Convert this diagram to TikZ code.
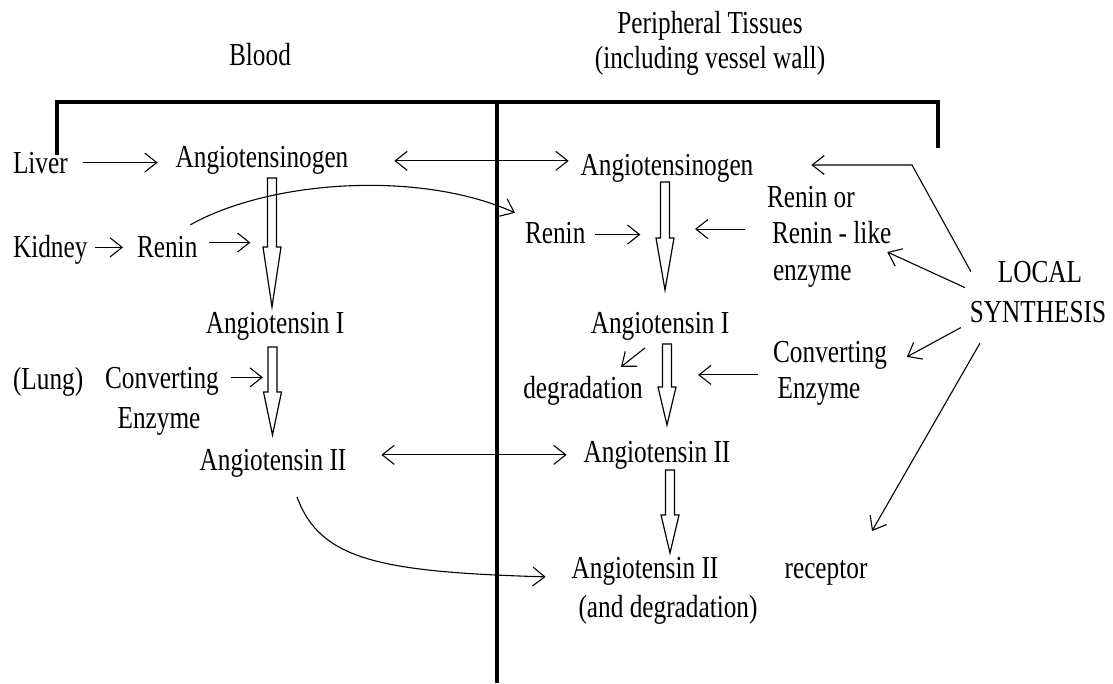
\documentclass[tikz,border=0pt]{standalone}
\usepackage{fontspec}
\setmainfont{Liberation Serif}[FakeStretch=0.79]
\usetikzlibrary{arrows.meta,calc}
\newcommand\hollowdown[4]{%
  \draw[hollow] (#1-4.5,#2) -- (#1+4.5,#2) -- (#1+4.5,#3) -- (#1+9,#3) -- (#1,#4) -- (#1-9,#3) -- (#1-4.5,#3) -- cycle;}
\begin{document}
\begin{tikzpicture}[x=1pt,y=-1pt,
  txt/.style={inner sep=0pt, outer sep=0pt, font=\fontsize{32}{38}\selectfont},
  arr/.style={line width=1.1pt, -{Straight Barb[length=12pt,width=19pt]}},
  darr/.style={line width=1.1pt, {Straight Barb[length=12pt,width=19pt]}-{Straight Barb[length=12pt,width=19pt]}},
  bar/.style={line width=4.5pt, line join=miter},
  hollow/.style={line width=1.2pt, line join=miter}]
\fill[white] (0,0) rectangle (1113,683);
\useasboundingbox (0,0) rectangle (1113,683);

% headings
\node[txt, anchor=base] (blood) at (260,65) {Blood};
\node[txt, anchor=base] (pt1) at (710,33) {Peripheral Tissues};
\node[txt, anchor=base] (pt2) at (710,68) {(including vessel wall)};

% frame
\draw[bar] (57,155) -- (57,102) -- (938,102) -- (938,148);
\draw[bar] (497,102) -- (497,683);

% blood side
\node[txt, anchor=base west] (liver) at (13,173) {Liver};
\node[txt, anchor=base] (angL) at (262,167) {Angiotensinogen};
\node[txt, anchor=base west] (kidney) at (13,257) {Kidney};
\node[txt, anchor=base west] (reninL) at (137,257) {Renin};
\node[txt, anchor=base] (angIL) at (275,333) {Angiotensin I};
\node[txt, anchor=base west] (lung) at (13,389) {(Lung)};
\node[txt, anchor=base] (convL) at (162,388) {Converting};
\node[txt, anchor=base] (enzL) at (159,428) {Enzyme};
\node[txt, anchor=base] (angIIL) at (273,470) {Angiotensin II};

% tissue side
\node[txt, anchor=base] (angR) at (667,175) {Angiotensinogen};
\node[txt, anchor=base west] (reninR) at (525,243) {Renin};
\node[txt, anchor=base west] (ror1) at (767,207) {Renin or};
\node[txt, anchor=base west] (ror2) at (772,243) {Renin - like};
\node[txt, anchor=base west] (ror3) at (773,280) {enzyme};
\node[txt, anchor=base] (local) at (1040,282) {LOCAL};
\node[txt, anchor=base] (synth) at (1038,322) {SYNTHESIS};
\node[txt, anchor=base] (angIR) at (660,333) {Angiotensin I};
\node[txt, anchor=base] (degr) at (583,398) {degradation};
\node[txt, anchor=base] (convR) at (830,362) {Converting};
\node[txt, anchor=base] (enzR) at (819,398) {Enzyme};
\node[txt, anchor=base] (angIIR) at (657,462) {Angiotensin II};
\node[txt, anchor=base] (angIIlow) at (645,578) {Angiotensin II};
\node[txt, anchor=base] (anddeg) at (668,617) {(and degradation)};
\node[txt, anchor=base] (receptor) at (826,578) {receptor};

% hollow conversion arrows
\hollowdown{272}{178}{247}{307}
\hollowdown{272.5}{347}{392}{435}
\hollowdown{665}{182}{238}{290}
\hollowdown{667}{344}{387}{425}
\hollowdown{670}{470}{515}{553}

% thin arrows, blood side
\draw[arr] ([xshift=15pt]liver.east) -- ([xshift=-18pt]liver.east -| angL.west);
\draw[darr] ([xshift=46pt,yshift=-1pt]angL.east) -- ([xshift=-12pt,yshift=-1pt]angL.east -| angR.west);
\draw[arr] ([xshift=8pt,yshift=2pt]kidney.east) -- ([xshift=-14pt,yshift=2pt]kidney.east -| reninL.west);
\draw[arr] ([xshift=12pt,yshift=4pt]reninL.east) -- ++(41,0);
\draw[arr] ([shift={(-7pt,11pt)}]reninL.north east) .. controls (270,180) and (420,170) .. ([shift={(-10pt,9pt)}]reninR.north west);
\draw[arr] ([xshift=12pt,yshift=3.5pt]convL.east) -- ++(32,0);
\draw[darr] ([xshift=35pt,yshift=8pt]angIIL.east) -- ([xshift=-17pt,yshift=8pt]angIIL.east -| angIIR.west);
\draw[arr] ([shift={(24pt,-20pt)}]angIIL.south) .. controls (320,560) and (380,572) .. ([shift={(-26pt,-6pt)}]angIIlow.west);

% thin arrows, tissue side
\draw[arr] ([xshift=10pt,yshift=-2pt]reninR.east) -- ++(45,0);
\draw[arr] ([xshift=-27pt,yshift=3pt]ror2.west) -- ++(-50,0);
\coordinate (bendA) at (912,165);
\draw[arr, line join=miter] ([xshift=-27pt]local.west) -- (bendA) -- ([xshift=58pt]bendA -| angR.east);
\draw[arr] ([shift={(-33pt,-16pt)}]local.west) -- ([shift={(-4pt,-20pt)}]ror2.east);
\draw[arr] ([shift={(-15pt,-8pt)}]angIR.south) -- ([shift={(38pt,9pt)}]degr.north);
\draw[arr] ([shift={(-15pt,-6pt)}]convR.south west) -- ++(-60,0);
\draw[arr] ([shift={(-9pt,-16pt)}]synth.west) -- ([shift={(20pt,-2pt)}]convR.east);
\draw[arr] ([shift={(10pt,-21pt)}]synth.south west) -- ([shift={(46pt,29pt)}]receptor.north);
\end{tikzpicture}
\end{document}
